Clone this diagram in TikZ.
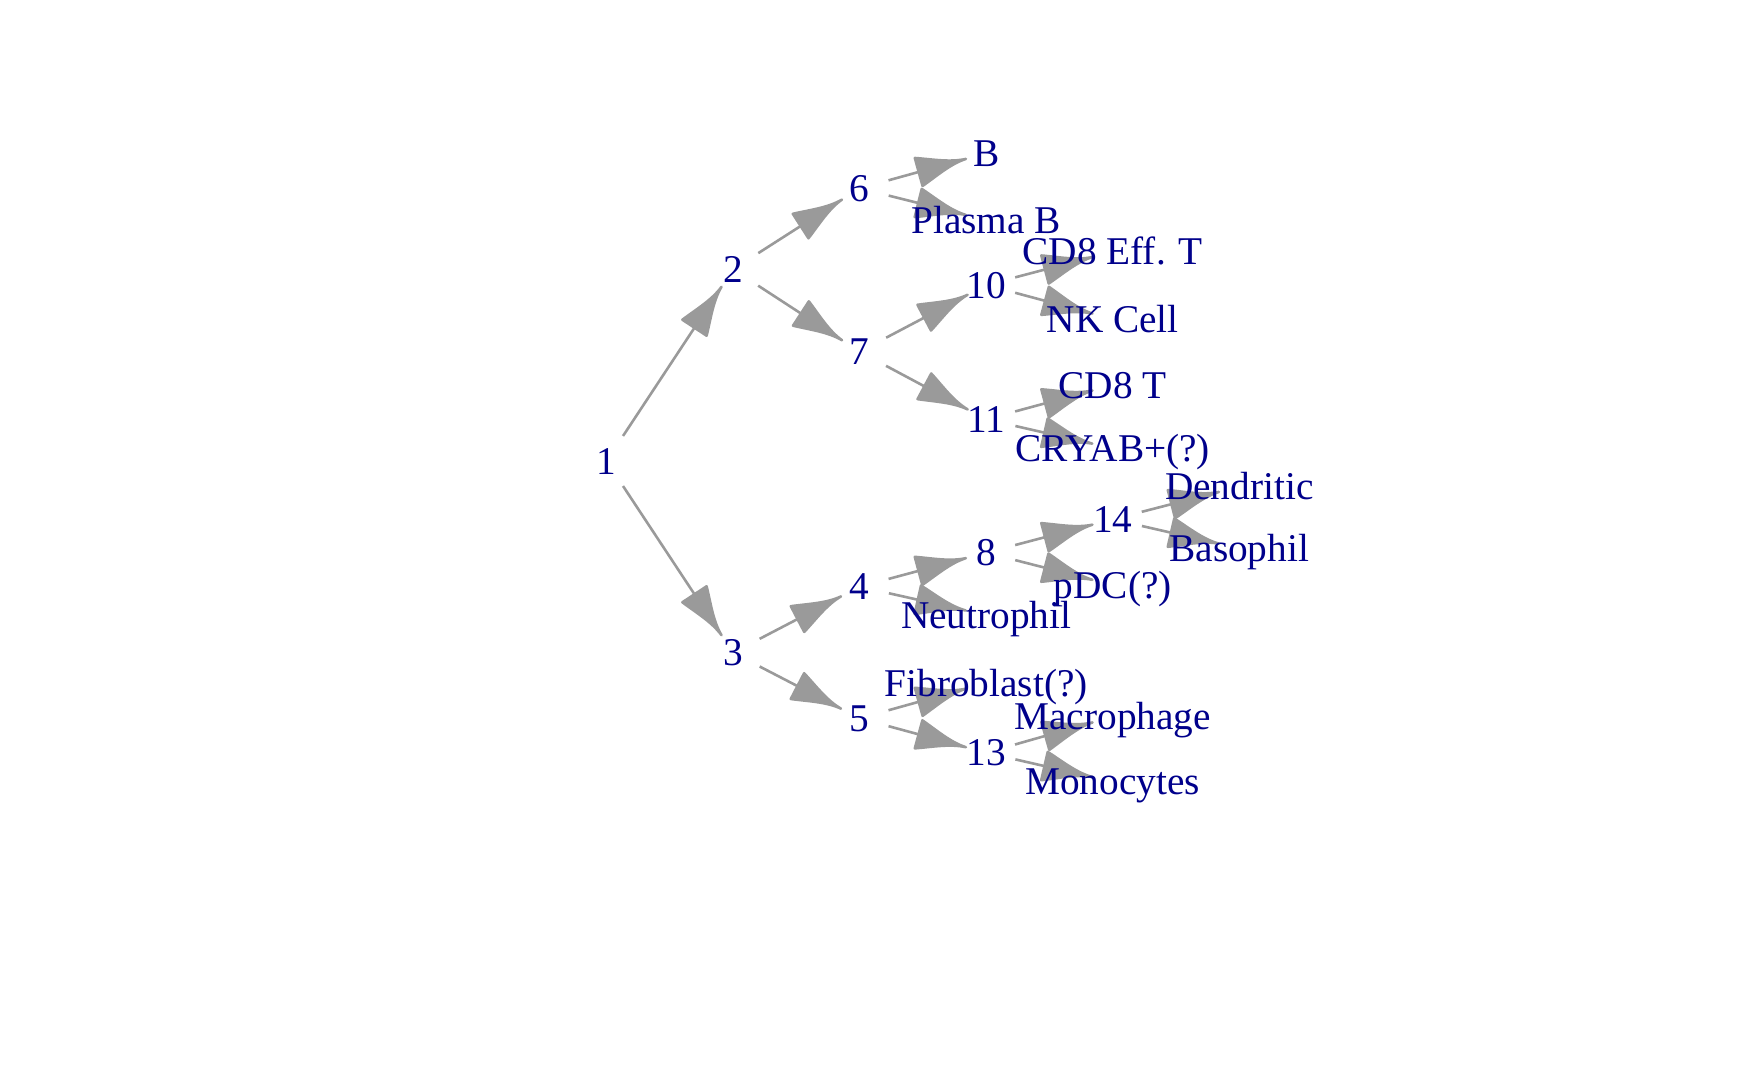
\documentclass[tikz,border=0pt]{standalone}
\usepackage{fontspec}
\setmainfont{Liberation Serif}
\usetikzlibrary{backgrounds}
\definecolor{egray}{HTML}{9A9A9A}
\definecolor{lblue}{HTML}{00008B}
\pgfdeclarearrow{
  name = IG,
  setup code = {
    \pgfarrowssettipend{1pt}
    \pgfarrowssetlineend{-28pt}
    \pgfarrowssetbackend{-49pt}
    \pgfarrowsupperhullpoint{-49pt}{14.5pt}
    \pgfarrowsupperhullpoint{0pt}{0pt}
  },
  drawing code = {
    \pgfsetroundjoin
    \pgfpathmoveto{\pgfpointorigin}
    \pgfpathcurveto{\pgfpoint{-16.33pt}{0.7pt}}{\pgfpoint{-32.67pt}{8.7pt}}{\pgfpoint{-49pt}{14.5pt}}
    \pgfpathlineto{\pgfpoint{-49pt}{-14.5pt}}
    \pgfpathcurveto{\pgfpoint{-32.67pt}{-8.7pt}}{\pgfpoint{-16.33pt}{-0.7pt}}{\pgfpointorigin}
    \pgfpathclose
    \pgfusepathqfillstroke
  }
}
\tikzset{
  lbl/.style={inner sep=0pt, outer sep=0pt, text=lblue, text height=26pt, text depth=0pt,
    anchor=center, font=\fontsize{39.3}{40}\selectfont},
  edge/.style={color=egray, line width=2.6pt, -IG, shorten <=30pt, shorten >=20pt}
}
\begin{document}
\begin{tikzpicture}[x=1pt,y=-1pt]
\useasboundingbox (0,0) rectangle (1750,1081);
% level 0..5 x positions: 606.5, 733.05, 859.6, 986.15, 1112.7, 1239.25
\node[lbl] (n1)  at (606.5,461) {1};
\node[lbl] (n2)  at (733.05,269.3) {2};
\node[lbl] (n3)  at (733.05,652.7) {3};
\node[lbl] (n6)  at (859.6,188.3) {6};
\node[lbl] (n7)  at (859.6,351.7) {7};
\node[lbl] (n4)  at (859.6,586.7) {4};
\node[lbl] (n5)  at (859.6,718.3) {5};
\node[lbl] (nB)  at (986.15,153.3) {B};
\node[lbl] (nPB) at (986.15,220) {Plasma B};
\node[lbl] (n10) at (986.15,285) {10};
\node[lbl] (n11) at (986.15,419.3) {11};
\node[lbl] (n8)  at (986.15,552.7) {8};
\node[lbl] (nNeu) at (986.15,615) {Neutrophil};
\node[lbl] (nFib) at (986.15,683) {Fibroblast(?)};
\node[lbl] (n13) at (986.15,752.7) {13};
\node[lbl] (nCDE) at (1112.7,251.7) {CD8 Eff. T};
\node[lbl] (nNK)  at (1112.7,319) {NK Cell};
\node[lbl] (nCDT) at (1112.7,385) {CD8 T};
\node[lbl] (nCRY) at (1112.7,448.3) {CRYAB+(?)};
\node[lbl] (n14)  at (1112.7,519.3) {14};
\node[lbl] (npDC) at (1112.7,585) {pDC(?)};
\node[lbl] (nMac) at (1112.7,716.7) {Macrophage};
\node[lbl] (nMon) at (1112.7,781.7) {Monocytes};
\node[lbl] (nDen) at (1239.25,486.7) {Dendritic};
\node[lbl] (nBas) at (1239.25,548.3) {Basophil};
\begin{pgfonlayer}{background}
\foreach \a/\b in {n1/n2, n1/n3, n2/n6, n2/n7, n6/nB, n6/nPB, n7/n10, n7/n11,
  n10/nCDE, n10/nNK, n11/nCDT, n11/nCRY, n3/n4, n3/n5, n4/n8, n4/nNeu,
  n8/n14, n8/npDC, n14/nDen, n14/nBas, n5/nFib, n5/n13, n13/nMac, n13/nMon}
  \draw[edge] (\a.center) -- (\b.center);
\end{pgfonlayer}
\end{tikzpicture}
\end{document}
